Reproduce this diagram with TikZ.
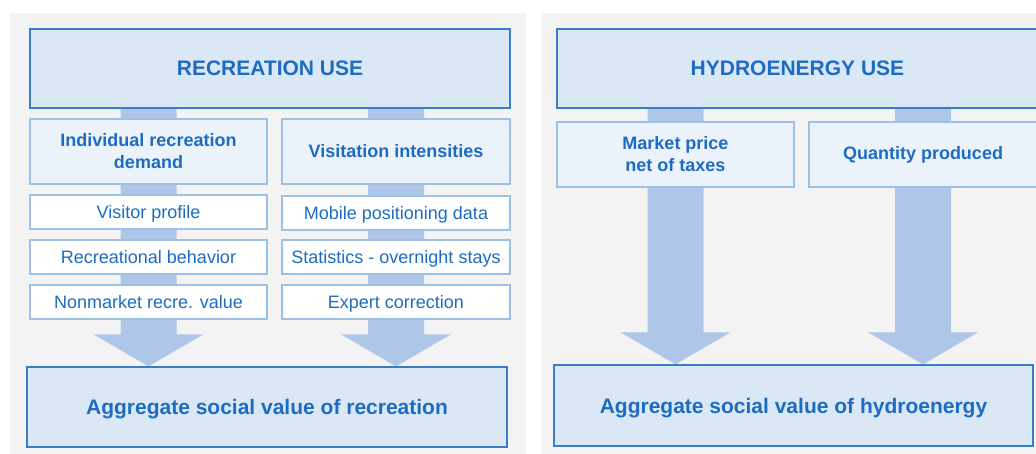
\documentclass[tikz,border=0pt]{standalone}
\usepackage{fontspec}
\setmainfont{Liberation Sans}
\usetikzlibrary{calc}
\definecolor{panelgray}{HTML}{F3F3F3}
\definecolor{headfill}{HTML}{DAE7F4}
\definecolor{headline}{HTML}{3A7CC8}
\definecolor{subfill}{HTML}{EBF2FA}
\definecolor{subline}{HTML}{9CC0E6}
\definecolor{flowblue}{HTML}{AEC6E7}
\definecolor{txtblue}{HTML}{1E6CC2}
\pgfdeclarelayer{panels}
\pgfdeclarelayer{flows}
\pgfsetlayers{panels,flows,main}
\begin{document}
\begin{tikzpicture}[x=1pt,y=-1pt,
  box/.style={draw, line width=1.3pt, inner sep=0pt, align=center, text=txtblue},
  headbox/.style={box, draw=headline, fill=headfill, font=\fontsize{21}{25}\selectfont\bfseries,
    text height=15pt, text depth=0pt},
  subbox/.style={box, draw=subline, fill=subfill, font=\fontsize{18}{22}\selectfont\bfseries},
  itembox/.style={box, draw=subline, fill=white, font=\fontsize{18}{22}\selectfont,
    text height=13pt, text depth=0pt},
  flow/.style={fill=flowblue}]
\useasboundingbox (0,0) rectangle (1036,454);

% grey panels behind both halves
\begin{pgfonlayer}{panels}
  \fill[panelgray] (10,13) rectangle (526,454);
  \fill[panelgray] (541,13) rectangle (1036,454);
\end{pgfonlayer}

% recreation use
\node[headbox, minimum width=480pt, minimum height=79pt] (rec) at (270,68.5) {RECREATION USE};
\node[subbox, minimum width=237pt, minimum height=65pt] (ind) at (148.5,151.5) {Individual recreation\\demand};
\node[subbox, minimum width=228pt, minimum height=65pt] (vis) at (396,151.5) {Visitation intensities};
\node[itembox, minimum width=237pt, minimum height=34pt] (prof) at (148.5,212) {Visitor profile};
\node[itembox, minimum width=237pt, minimum height=34pt] (behav) at (148.5,257) {Recreational behavior};
\node[itembox, minimum width=237pt, minimum height=34pt] (nonm) at (148.5,302) {Nonmarket recre. value};
\node[itembox, minimum width=228pt, minimum height=34pt] (mob) at (396,213) {Mobile positioning data};
\node[itembox, minimum width=228pt, minimum height=34pt] (stat) at (396,257) {Statistics - overnight stays};
\node[itembox, minimum width=228pt, minimum height=34pt] (expc) at (396,302) {Expert correction};
\node[headbox, minimum width=480pt, minimum height=80pt] (recagg) at (267,407) {Aggregate social value of recreation};

% hydroenergy use
\node[headbox, minimum width=481pt, minimum height=79pt] (hyd) at (797.5,68.5) {HYDROENERGY USE};
\node[subbox, minimum width=237pt, minimum height=65pt] (mkt) at (675.5,154.5) {Market price\\net of taxes};
\node[subbox, minimum width=228pt, minimum height=65pt] (qty) at (923,154.5) {Quantity produced};
\node[headbox, minimum width=479pt, minimum height=81pt] (hydagg) at (793.5,405.5) {Aggregate social value of hydroenergy};

% broad flow arrows running behind the boxes
\begin{pgfonlayer}{flows}
  \foreach \col/\src/\dst in {ind/rec/recagg, vis/rec/recagg, mkt/hyd/hydagg, qty/hyd/hydagg}{
    \fill[flow] let \p1=(\col.center), \p2=(\src.south), \p3=(\dst.north) in
      (\x1-28pt,\y2) -- (\x1+28pt,\y2) -- (\x1+28pt,\y3+32pt) -- (\x1+55pt,\y3+32pt)
      -- (\x1,\y3) -- (\x1-55pt,\y3+32pt) -- (\x1-28pt,\y3+32pt) -- cycle;
  }
\end{pgfonlayer}
\end{tikzpicture}
\end{document}
